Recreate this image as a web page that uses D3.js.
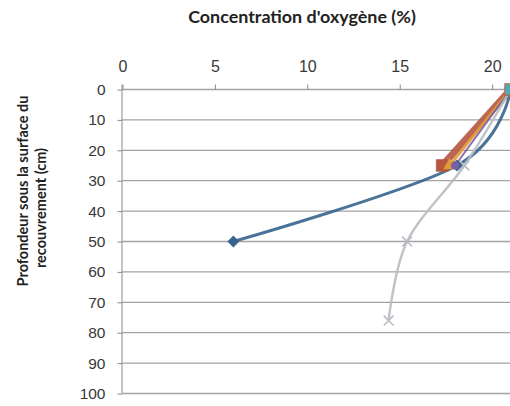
<!DOCTYPE html>
<html>
<head>
<meta charset="utf-8">
<script src="https://cdn.jsdelivr.net/npm/d3@7"></script>
<style>
  html, body { margin: 0; padding: 0; background: #fff; }
  svg { display: block; font-family: "Open Sans", "DejaVu Sans", sans-serif; }
</style>
</head>
<body>
<svg id="chart" width="510" height="406"></svg>
<script>
// Oxygen concentration (%) against depth below the cover surface (cm)
const xTicks = [0, 5, 10, 15, 20];
const yTicks = [0, 10, 20, 30, 40, 50, 60, 70, 80, 90, 100];

const profileA = [ {o2: 21.0, depth: 0}, {o2: 18.1, depth: 25}, {o2: 6.0, depth: 50} ];
const profileB = [ {o2: 21.0, depth: 0}, {o2: 17.3, depth: 25} ];
const profileC = [ {o2: 21.0, depth: 0}, {o2: 17.7, depth: 25} ];
const profileD = [ {o2: 21.0, depth: 0}, {o2: 18.0, depth: 25} ];
const profileE = [ {o2: 21.0, depth: 0}, {o2: 18.5, depth: 25}, {o2: 15.4, depth: 50}, {o2: 14.4, depth: 76} ];
const profileF = [ {o2: 21.0, depth: 0} ];

const series = [
  { name: "A", data: profileA, color: "#36648f", width: 3,   marker: "diamond", msize: 9 },
  { name: "B", data: profileB, color: "#b55640", width: 7,   marker: "square",  msize: 12 },
  { name: "C", data: profileC, color: "#e39a35", width: 3,   marker: "triangle", msize: 8 },
  { name: "D", data: profileD, color: "#7a5fa6", width: 2,   marker: "circle",  msize: 7 },
  { name: "E", data: profileE, color: "#b9bcc2", width: 2.5, marker: "cross",   msize: 8 },
  { name: "F", data: profileF, color: "#52aab5", width: 2,   marker: "square",  msize: 10 }
];

const svg = d3.select("#chart");
const x = d3.scaleLinear().domain([0, 21]).range([122.5, 510.6]);
const y = d3.scaleLinear().domain([0, 100]).range([89.5, 393.5]);

// horizontal gridlines
svg.append("g")
  .selectAll("line")
  .data(yTicks)
  .join("line")
  .attr("x1", x(0)).attr("x2", 510)
  .attr("y1", d => y(d)).attr("y2", d => y(d))
  .attr("stroke", "#a3a3a3").attr("stroke-width", 1.3);

// top axis
const xAxis = svg.append("g")
  .attr("transform", `translate(0,${y(0)})`)
  .call(d3.axisTop(x).tickValues(xTicks).tickSize(5).tickPadding(13).tickFormat(d3.format("d")));
xAxis.select(".domain").remove();
xAxis.selectAll(".tick line").attr("stroke", "#8a8a8a");
xAxis.selectAll("text").attr("font-size", 16).attr("fill", "#383838");

// left axis
const yAxis = svg.append("g")
  .attr("transform", `translate(${x(0)},0)`)
  .call(d3.axisLeft(y).tickValues(yTicks).tickSize(5).tickPadding(12).tickFormat(d3.format("d")));
yAxis.select(".domain").attr("stroke", "#8a8a8a").attr("d", `M-0.5,${y(0) - 5}V${y(100)}`);
yAxis.selectAll(".tick line").attr("stroke", "#8a8a8a");
yAxis.selectAll("text").attr("font-size", 15.5).attr("fill", "#383838");

// titles
svg.append("text")
  .attr("x", 302).attr("y", 23)
  .attr("text-anchor", "middle")
  .attr("font-family", "Lato, 'Open Sans', sans-serif")
  .attr("font-size", 17.9).attr("font-weight", "bold").attr("fill", "#222")
  .text("Concentration d'oxygène (%)");

const yTitle = svg.append("g")
  .attr("font-family", "Lato, 'Open Sans', sans-serif")
  .attr("font-size", 14.5).attr("font-weight", "bold").attr("fill", "#222");
yTitle.append("text")
  .attr("transform", "translate(28,191) rotate(-90)")
  .attr("text-anchor", "middle")
  .text("Profondeur sous la surface du");
yTitle.append("text")
  .attr("transform", "translate(46,208) rotate(-90)")
  .attr("text-anchor", "middle")
  .text("recouvrement (cm)");

// smoothed profile lines
const line = d3.line()
  .x(d => x(d.o2))
  .y(d => y(d.depth))
  .curve(d3.curveCardinal.tension(0));

const symbolType = {
  diamond: d3.symbolDiamond2 || d3.symbolDiamond,
  square: d3.symbolSquare,
  triangle: d3.symbolTriangle,
  circle: d3.symbolCircle,
  cross: d3.symbolX || d3.symbolCross
};

const plot = svg.append("g");
series.forEach(s => {
  if (s.data.length > 1) {
    plot.append("path")
      .datum(s.data)
      .attr("d", line)
      .attr("fill", "none")
      .attr("stroke", s.color)
      .attr("stroke-width", s.width)
      .attr("stroke-linejoin", "round")
      .attr("stroke-opacity", 0.9);
  }
});

series.forEach(s => {
  const g = plot.append("g");
  const sym = d3.symbol().type(symbolType[s.marker]).size(s.msize * s.msize);
  g.selectAll("path")
    .data(s.data)
    .join("path")
    .attr("transform", d => `translate(${x(d.o2)},${y(d.depth)})`)
    .attr("d", sym)
    .attr("fill", s.marker === "cross" ? "none" : s.color)
    .attr("stroke", s.color)
    .attr("stroke-width", s.marker === "cross" ? 1.5 : 0.5);
});
</script>
</body>
</html>
